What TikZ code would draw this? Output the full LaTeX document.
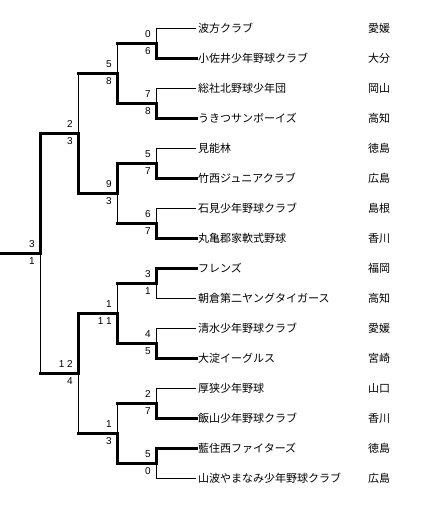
\documentclass[tikz,border=0pt]{standalone}
\usepackage{fontspec}
\usepackage{tikz}
\newfontfamily\jpfont{Noto Sans CJK JP}
\newfontfamily\numfont{Liberation Sans}
\tikzset{
  win/.style={line width=3pt, line cap=rect},
  lose/.style={line width=1pt},
  team/.style={anchor=west, inner xsep=2pt, inner ysep=0pt, font=\jpfont\fontsize{11}{13}\selectfont},
  pref/.style={anchor=west, inner sep=0pt, font=\jpfont\fontsize{11}{13}\selectfont},
  score/.style={inner sep=0pt, font=\numfont\fontsize{10}{11}\selectfont}
}

\begin{document}
\begin{tikzpicture}[x=1pt, y=-1pt]
    \useasboundingbox (0,0) rectangle (432,507);
    % teams and their prefectures
    \foreach \name/\pref [count=\i] in {波方クラブ/愛媛, 小佐井少年野球クラブ/大分, 総社北野球少年団/岡山, うきつサンボーイズ/高知,
        見能林/徳島, 竹西ジュニアクラブ/広島, 石見少年野球クラブ/島根, 丸亀郡家軟式野球/香川,
        フレンズ/福岡, 朝倉第二ヤングタイガース/高知, 清水少年野球クラブ/愛媛, 大淀イーグルス/宮崎,
        厚狭少年野球/山口, 飯山少年野球クラブ/香川, 藍住西ファイターズ/徳島, 山波やまなみ少年野球クラブ/広島} {
        \node[team] (t\i) at (196, 30*\i-2) {\name};
        \node[pref] (p\i) at (368, 30*\i-2) {\pref};
    }
    % first round
    \foreach \k/\sa/\sb/\ta/\tb in {1/0/6/lose/win, 2/7/8/lose/win, 3/5/7/lose/win, 4/6/7/lose/win,
        5/3/1/win/lose, 6/4/5/lose/win, 7/2/7/lose/win, 8/5/0/win/lose} {
        \pgfmathtruncatemacro\a{2*\k-1}
        \pgfmathtruncatemacro\b{2*\k}
        \coordinate (m1\k) at (156, 60*\k-17);
        \draw[\ta] (t\a.west) -| (m1\k);
        \draw[\tb] (t\b.west) -| (m1\k);
        \node[score, anchor=south east] (s1\k a) at ([shift={(-5,-5)}]m1\k) {\sa};
        \node[score, anchor=north east] (s1\k b) at ([shift={(-5,4)}]m1\k) {\sb};
    }
    % later rounds
    \foreach \r/\k/\x/\y/\sa/\sb/\ta/\tb in {2/1/117/73/5/8/lose/win, 2/2/117/193/9/3/win/lose,
        2/3/117/313/1/1 1/lose/win, 2/4/117/433/1/3/lose/win,
        3/1/78/133/2/3/lose/win, 3/2/78/373/1 2/4/win/lose, 4/1/40/253/3/1/win/lose} {
        \pgfmathtruncatemacro\p{\r-1}
        \pgfmathtruncatemacro\a{2*\k-1}
        \pgfmathtruncatemacro\b{2*\k}
        \coordinate (m\r\k) at (\x, \y);
        \draw[win] (m\p\a) -- (m\p\a -| m\r\k);
        \draw[win] (m\p\b) -- (m\p\b -| m\r\k);
        \draw[\ta] (m\p\a -| m\r\k) -- (m\r\k);
        \draw[\tb] (m\p\b -| m\r\k) -- (m\r\k);
        \node[score, anchor=south east] (s\r\k a) at ([shift={(-5,-5)}]m\r\k) {\sa};
        \node[score, anchor=north east] (s\r\k b) at ([shift={(-5,4)}]m\r\k) {\sb};
    }
    \coordinate (champ) at (0,253);
    \draw[win] (m41) -- (champ);
\end{tikzpicture}
\end{document}
